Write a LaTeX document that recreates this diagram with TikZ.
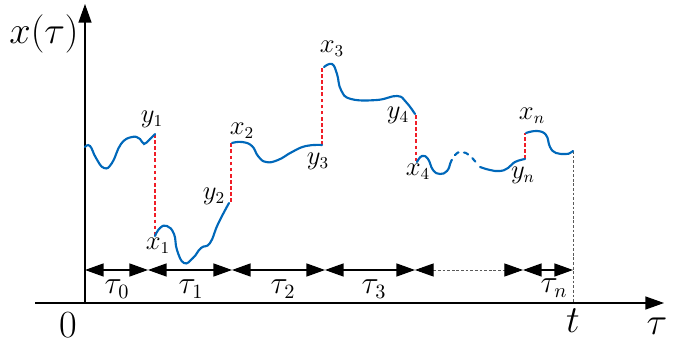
\documentclass[tikz,border=0pt]{standalone}
\usetikzlibrary{arrows.meta}
\definecolor{pathblue}{RGB}{0,104,186}
\definecolor{jumpred}{RGB}{240,30,40}
\begin{document}
\begin{tikzpicture}[x=0.54pt,y=-0.54pt,
  axis/.style={line width=0.6pt,-{Triangle[length=10pt,width=7pt]}},
  path/.style={pathblue,line width=1.15pt,line cap=round},
  jump/.style={jumpred,line width=1.4pt,dash pattern=on 2pt off 1.3pt},
  ival/.style={line width=0.7pt,{Triangle[length=10pt,width=7pt]}-{Triangle[length=10pt,width=7pt]}},
  dival/.style={gray!70!black,line width=0.5pt,dash pattern=on 1.5pt off 1pt,
    {Triangle[length=10pt,width=7pt,color=black]}-{Triangle[length=10pt,width=7pt,color=black]}},
  dval/.style={gray!70!black,line width=0.5pt,dash pattern=on 1.5pt off 1pt},
  lab/.style={inner sep=0pt,font=\fontsize{13.5}{16}\selectfont},
  tlab/.style={inner sep=0pt,font=\fontsize{16}{19}\selectfont},
  big/.style={inner sep=0pt,font=\fontsize{20.5}{24}\selectfont}]
\useasboundingbox (0,0) rectangle (690,344);
% axes
\coordinate (o) at (85,303);
\coordinate (xl) at (35,303);
\coordinate (xr) at (664,303);
\coordinate (yt) at (85,4);
\draw[axis] (xl) -- (xr);
\draw[axis] (o) -- (yt);
% jump coordinates
\coordinate (y1) at (155,134);
\coordinate (x1) at (155,236);
\coordinate (y2) at (231,202);
\coordinate (x2) at (231,142);
\coordinate (y3) at (322,145);
\coordinate (x3) at (322,67);
\coordinate (y4) at (416,115);
\coordinate (x4) at (416,162);
\coordinate (yn) at (525,159);
\coordinate (xn) at (525,133);
\coordinate (tend) at (573,151);
\coordinate (tax) at (573,303);
% jumps
\draw[jump] (y1) -- (x1);
\draw[jump] (y2) -- (x2);
\draw[jump] (y3) -- (x3);
\draw[jump] (y4) -- (x4);
\draw[jump] (yn) -- (xn);
\draw[dval] (tend) -- (tax);
% paths
\draw[path] plot[smooth,tension=0.8] coordinates {(85,147) (90,146) (96,158) (104,168) (112,163) (121,144) (132,137) (140,139) (144,144) (150,139) (155,134)};
\draw[path] plot[smooth,tension=0.8] coordinates {(155,236) (160,228) (167,226) (174,234) (177,250) (184,263) (193,258) (201,248) (210,243) (218,224) (229,203)};
\draw[path] plot[smooth,tension=0.8] coordinates {(232,143) (242,142) (252,146) (258,156) (266,162) (278,160) (292,152) (306,146) (322,145)};
\draw[path] plot[smooth,tension=0.75] coordinates {(324,67) (332,64) (337,74) (341,90) (351,99) (377,100) (397,96) (406,102) (415,114)};
\draw[path] plot[smooth,tension=0.8] coordinates {(417,162) (422,156) (428,159) (433,170) (440,174) (447,171) (450,164)};
\draw[path,dash pattern=on 2.5pt off 3pt] plot[smooth,tension=0.8] coordinates {(450,164) (455,155) (462,152) (470,156) (478,165)};
\draw[path] plot[smooth,tension=0.8] coordinates {(480,167) (490,170) (500,171) (508,168) (515,162) (525,159)};
\draw[path] plot[smooth,tension=0.75] coordinates {(526,133) (537,131) (546,135) (550,147) (556,153) (566,154) (570,153) (573,151)};
% intervals
\coordinate (b0) at (85,270);
\coordinate (b1) at (148,270);
\coordinate (b2) at (232,270);
\coordinate (b3) at (325,270);
\coordinate (b4) at (415,270);
\coordinate (b5) at (523,270);
\coordinate (b6) at (573,270);
\draw[ival] (b0) -- (b1);
\draw[ival] (b1) -- (b2);
\draw[ival] (b2) -- (b3);
\draw[ival] (b3) -- (b4);
\draw[dival] (b4) -- (b5);
\draw[ival] (b5) -- (b6);
% labels
\node[lab] (ly1) at (152,119) {$y_1$};
\node[lab] (lx1) at (158,246) {$x_1$};
\node[lab] (ly2) at (214,196) {$y_2$};
\node[lab] (lx2) at (242,131) {$x_2$};
\node[lab] (ly3) at (318,161) {$y_3$};
\node[lab] (lx3) at (332,49) {$x_3$};
\node[lab] (ly4) at (398,115) {$y_4$};
\node[lab] (lx4) at (418,172) {$x_4$};
\node[lab] (lxn) at (532,116) {$x_n$};
\node[lab] (lyn) at (523,175) {$y_n$};
\node[tlab] (t0) at (117,289) {$\tau_0$};
\node[tlab] (t1) at (191,289) {$\tau_1$};
\node[tlab] (t2) at (283,289) {$\tau_2$};
\node[tlab] (t3) at (374,289) {$\tau_3$};
\node[tlab] (tn) at (554,288) {$\tau_n$};
\node[big] (zero) at (68,325) {$0$};
\node[big] (tt) at (573,321) {$t$};
\node[big] (tau) at (657,326) {$\tau$};
\node[big] (xt) at (44,34) {$x(\tau)$};
\end{tikzpicture}
\end{document}
